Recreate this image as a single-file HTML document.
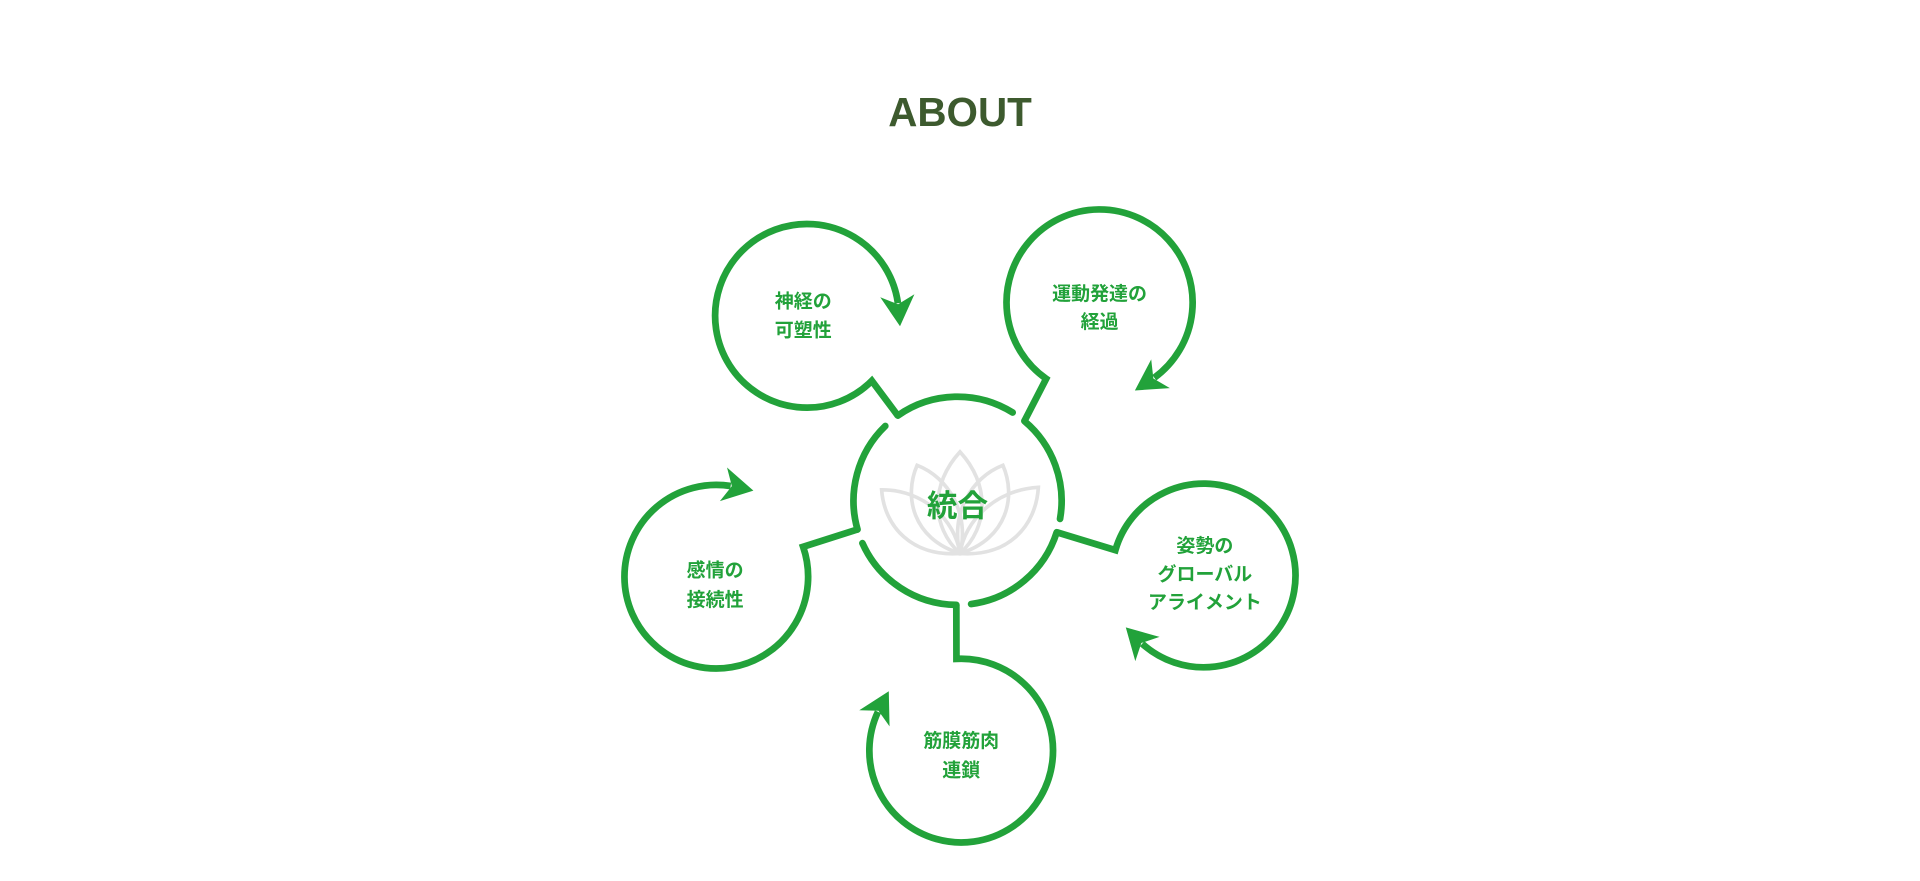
<!DOCTYPE html>
<html><head><meta charset="utf-8"><style>
html,body{margin:0;padding:0;background:#fff;}
svg{display:block;}
</style></head><body>
<svg width="1920" height="881" viewBox="0 0 1568 719.5" xmlns="http://www.w3.org/2000/svg">
<text x="784" y="103" text-anchor="middle" font-family="Liberation Sans, sans-serif" font-weight="700" font-size="33" fill="#3d5a2e">ABOUT</text>
<g fill="none" stroke="#e2e2e2" stroke-width="3">
<path d="M784,452 C760,430 760,395 784,369 C808,395 808,430 784,452Z"/>
<path d="M784,452 C745,440 738,405 749,380 C775,390 792,420 784,452Z"/>
<path d="M784,452 C823,440 830,405 819,380 C793,390 776,420 784,452Z"/>
<path d="M784,452 C745,455 722,430 720,400 C755,400 780,425 784,452Z"/>
<path d="M784,452 C823,455 846,430 848,398 C813,400 788,425 784,452Z"/>
</g>
<g fill="none" stroke="#22a23a" stroke-width="5.5" stroke-linecap="round" stroke-linejoin="miter">
<path d="M733.2,339.4 A85,85 0 0 1 827,336.9"/>
<path d="M836.6,343.9 A85,85 0 0 1 865.7,423.8"/>
<path d="M863,434.7 A85,85 0 0 1 793.1,493.3"/>
<path d="M781,494 A85,85 0 0 1 704.3,443.6"/>
<path d="M700.3,432.4 A85,85 0 0 1 723,347.9"/>
<path d="M733.2,339.4 L712,311 A75,75 0 1 1 733.3,247.6" stroke-linecap="butt"/>
<path d="M836.6,343.9 L854.4,309.3 A76,76 0 1 1 942.7,308.5" stroke-linecap="butt"/>
<path d="M863,434.7 L910.9,449.3 A75,75 0 1 1 932.8,525.7" stroke-linecap="butt"/>
<path d="M781,494 L781.1,538.1 A75,75 0 1 1 717,581.3" stroke-linecap="butt"/>
<path d="M700.3,432.4 L655.9,446.6 A75,75 0 1 1 596.7,396.9" stroke-linecap="butt"/>
</g>
<g fill="#22a23a">
<polygon points="15,0 -10,-14 -3,0 -10,14" transform="translate(733.7,251.5) rotate(85)"/>
<polygon points="15,0 -10,-14 -3,0 -10,14" transform="translate(939.4,310.7) rotate(147)"/>
<polygon points="15,0 -10,-14 -3,0 -10,14" transform="translate(930,523) rotate(225)"/>
<polygon points="15,0 -10,-14 -3,0 -10,14" transform="translate(718.8,577.8) rotate(298)"/>
<polygon points="15,0 -10,-14 -3,0 -10,14" transform="translate(600.6,397.6) rotate(12)"/>
</g>
<g font-family="Liberation Sans, Noto Sans CJK JP, sans-serif" font-weight="700" font-size="15.5" fill="#22a23a" text-anchor="middle">
<text x="782" y="422" font-size="25">統合</text>
<text x="656" y="251">神経の</text><text x="656" y="275">可塑性</text>
<text x="898" y="245">運動発達の</text><text x="898" y="268">経過</text>
<text x="984" y="451">姿勢の</text><text x="984" y="474">グローバル</text><text x="984" y="497">アライメント</text>
<text x="785" y="610">筋膜筋肉</text><text x="785" y="634">連鎖</text>
<text x="584" y="471">感情の</text><text x="584" y="495">接続性</text>
</g>
</svg>
</body></html>
